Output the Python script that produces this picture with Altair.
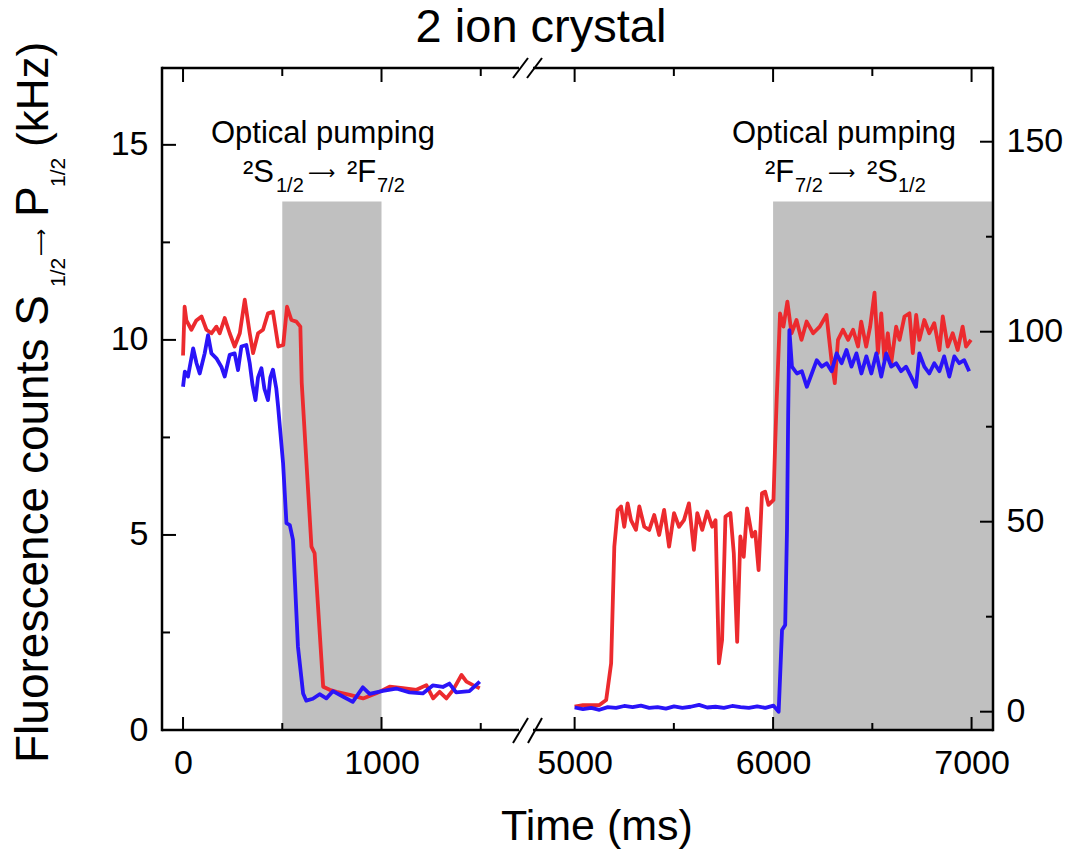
import altair as alt
import pandas as pd

# ---------------- data ----------------
RED_T1 = [0, 8, 17, 42, 67, 93, 118, 143, 168, 185, 210, 235, 260, 286, 311, 336, 353, 378, 403, 428,
          453, 480, 505, 524, 546, 571, 591, 598, 647, 663, 706, 739, 773, 840, 907, 974, 1041, 1108, 1176, 1226,
          1260, 1293, 1327, 1361, 1403, 1428, 1461, 1495]
RED_V1 = [9.6, 10.85, 10.5, 10.26, 10.5, 10.6, 10.26, 10.17, 10.34, 10.17, 10.56, 10.17, 9.83, 10.17, 11.03, 10.17, 9.66, 10.17, 10.26, 10.68,
          10.72, 9.83, 9.87, 10.85, 10.51, 10.47, 10.34, 8.9, 4.7, 4.53, 1.11, 1.03, 0.98, 0.9, 0.81, 0.94, 1.11, 1.07, 1.03, 1.15,
          0.81, 0.98, 0.81, 1.03, 1.41, 1.24, 1.15, 1.07]

RED_T2 = [5000, 5042, 5125, 5159, 5184, 5200, 5217, 5234, 5250, 5267, 5284, 5309, 5326, 5351, 5376, 5401, 5426, 5451, 5476, 5501,
          5526, 5551, 5576, 5601, 5618, 5643, 5668, 5693, 5710, 5727, 5743, 5760, 5785, 5802, 5819, 5835, 5852, 5869, 5894, 5910,
          5927, 5944, 5960, 5977, 6002, 6010, 6018, 6035, 6052, 6072, 6093, 6118, 6143, 6169, 6202, 6235, 6269, 6294, 6311, 6327,
          6352, 6378, 6403, 6428, 6444, 6469, 6489, 6511, 6528, 6545, 6561, 6578, 6595, 6620, 6637, 6662, 6687, 6704, 6721, 6737,
          6762, 6787, 6812, 6838, 6855, 6880, 6905, 6930, 6955, 6972, 6997]
RED_V2 = [0.6, 0.64, 0.64, 0.77, 1.71, 4.7, 5.64, 5.73, 5.21, 5.81, 5.38, 5.13, 5.73, 5.21, 5.13, 5.51, 5.0, 5.64, 4.7, 5.56,
          5.21, 5.38, 5.81, 4.62, 5.56, 5.13, 5.6, 5.21, 5.38, 1.71, 2.31, 5.47, 5.56, 4.53, 2.26, 4.96, 4.44, 5.68, 4.96, 5.08,
          4.1, 6.07, 6.11, 5.77, 5.9, 7.26, 8.46, 10.68, 10.34, 10.98, 10.17, 10.51, 10.0, 10.47, 10.17, 10.34, 10.64, 9.49, 8.89, 10.0,
          10.26, 10.0, 10.26, 9.83, 10.47, 9.83, 10.34, 11.21, 9.66, 10.68, 9.49, 10.17, 9.4, 10.34, 10.0, 10.6, 10.68, 9.66, 10.64, 10.0,
          10.51, 10.17, 10.43, 9.74, 10.6, 9.83, 10.17, 9.74, 10.34, 9.83, 10.0]

BLUE_T1 = [0, 9, 25, 51, 68, 84, 109, 126, 143, 168, 193, 210, 235, 260, 277, 294, 319, 336, 350, 365,
           378, 395, 410, 428, 440, 453, 470, 479, 504, 521, 538, 554, 579, 605, 621, 654, 688, 722, 755, 805,
           855, 906, 940, 1007, 1074, 1141, 1208, 1258, 1309, 1342, 1376, 1443, 1495]
BLUE_V1 = [85.5, 89.5, 88.2, 95.6, 91.7, 89.0, 94.3, 99.1, 94.3, 93.0, 90.8, 88.2, 93.9, 94.3, 89.9, 96.1, 96.5, 91.7, 86.0, 82.0,
           88.0, 90.4, 85.0, 82.0, 88.0, 90.0, 85.0, 80.3, 65.4, 49.6, 49.1, 45.2, 17.1, 4.8, 2.9, 3.4, 4.6, 3.5, 5.4, 4.0,
           2.6, 6.4, 4.7, 5.5, 6.1, 5.1, 4.8, 6.9, 6.5, 7.4, 5.1, 5.4, 7.9]

BLUE_T2 = [5000, 5042, 5084, 5125, 5167, 5209, 5250, 5292, 5334, 5376, 5418, 5460, 5501, 5543, 5585, 5627, 5668, 5710, 5752, 5794,
           5836, 5878, 5920, 5961, 6002, 6028, 6045, 6061, 6070, 6076, 6082, 6095, 6120, 6145, 6170, 6195, 6220, 6245, 6270, 6295,
           6320, 6345, 6370, 6395, 6420, 6445, 6470, 6495, 6520, 6545, 6570, 6595, 6620, 6645, 6670, 6695, 6720, 6737, 6762, 6787,
           6812, 6838, 6862, 6888, 6913, 6938, 6963, 6988]
BLUE_V2 = [1.1, 0.7, 1.0, 0.5, 1.2, 1.0, 1.5, 1.2, 1.6, 1.0, 1.2, 0.8, 1.4, 1.0, 1.3, 1.8, 1.1, 1.3, 1.0, 1.5,
           1.2, 1.0, 1.4, 1.0, 1.6, 0.0, 21.5, 22.8, 47.8, 78.0, 100.4, 90.8, 89.0, 89.6, 85.5, 89.0, 92.5, 90.8, 91.7, 89.6,
           94.3, 91.7, 95.2, 90.8, 94.3, 89.0, 93.5, 89.0, 94.3, 88.2, 94.3, 90.8, 91.7, 89.6, 90.8, 88.2, 85.5, 94.3, 90.8, 89.0,
           91.7, 89.6, 93.5, 88.2, 93.5, 91.7, 92.5, 89.6]

SHADE_START = [500, 6000]
SHADE_END = [1000, 7106]
SHADE_TOP = 13.55

X_MAJOR = [0, 1000, 5000, 6000, 7000]
X_MINOR = [500, 1500, 5500, 6500]
YL_MAJOR = [0, 5, 10, 15]
YL_MINOR = [2.5, 7.5, 12.5]
YR_MAJOR = [0, 50, 100, 150]
YR_MINOR = [25, 75, 125]

# ---------------- broken time axis ----------------
OFFSET = 3027          # ms removed between the two segments
def xp(t):
    return t if t < 3000 else t - OFFSET

W, H = 831, 662
FONT = "Liberation Sans"
ARROW_FONT = "DejaVu Sans"
RED = "#ec2a2e"
BLUE = "#2a14f8"

XS = alt.Scale(domain=[-106, xp(7108)], nice=False, zero=False)
YLS = alt.Scale(domain=[0, 16.97], nice=False, zero=False)
YRS = alt.Scale(domain=[-4.82, 169.4], nice=False, zero=False)

XAX = alt.Axis(values=[xp(v) for v in X_MAJOR],
               labelExpr="format(datum.value > 1800 ? datum.value + %d : datum.value, 'd')" % OFFSET,
               ticks=False, tickSize=0, domain=False, grid=False, title=None,
               labelFont=FONT, labelFontSize=34, labelColor="black", labelPadding=16,
               labelFlush=False, labelOverlap=False)
YLAX = alt.Axis(values=YL_MAJOR, orient="left", ticks=False, tickSize=0, domain=False, grid=False,
                title=None, labelFont=FONT, labelFontSize=34, labelColor="black", labelPadding=14)
YRAX = alt.Axis(values=YR_MAJOR, orient="right", ticks=False, tickSize=0, domain=False, grid=False,
                title=None, labelFont=FONT, labelFontSize=34, labelColor="black", labelPadding=13)

def series(ts_list, vs_list):
    rows = []
    for seg, (ts, vs) in enumerate(zip(ts_list, vs_list)):
        for t, v in zip(ts, vs):
            rows.append({"t": t, "xp": xp(t), "v": v, "seg": seg})
    return pd.DataFrame(rows)

red_df = series([RED_T1, RED_T2], [RED_V1, RED_V2])
blue_df = series([BLUE_T1, BLUE_T2], [BLUE_V1, BLUE_V2])
shade_df = pd.DataFrame({"x0": [xp(s) for s in SHADE_START], "x1": [xp(e) for e in SHADE_END],
                         "y0": [0, 0], "y1": [SHADE_TOP, SHADE_TOP]})
xmaj_df = pd.DataFrame({"xp": [xp(v) for v in X_MAJOR]})
xmin_df = pd.DataFrame({"xp": [xp(v) for v in X_MINOR]})
ylmaj_df = pd.DataFrame({"v": YL_MAJOR})
ylmin_df = pd.DataFrame({"v": YL_MINOR})
yrmaj_df = pd.DataFrame({"v": YR_MAJOR})
yrmin_df = pd.DataFrame({"v": YR_MINOR})
dummy = pd.DataFrame({"a": [0]})

# ---------------- left group (kHz) ----------------
shade = alt.Chart(shade_df).mark_rect(color="#c0c0c0").encode(
    x=alt.X("x0:Q", scale=XS, axis=XAX), x2="x1",
    y=alt.Y("y0:Q", scale=YLS, axis=YLAX), y2="y1")
red_line = alt.Chart(red_df).mark_line(color=RED, strokeWidth=3.8, strokeJoin="round").encode(
    x=alt.X("xp:Q", scale=XS, axis=XAX),
    y=alt.Y("v:Q", scale=YLS, axis=YLAX),
    detail="seg:N")
yl_major = alt.Chart(ylmaj_df).mark_rule(color="black", strokeWidth=2).encode(
    y=alt.Y("v:Q", scale=YLS, axis=YLAX), x=alt.value(0), x2=alt.value(14))
yl_minor = alt.Chart(ylmin_df).mark_rule(color="black", strokeWidth=2).encode(
    y=alt.Y("v:Q", scale=YLS, axis=YLAX), x=alt.value(0), x2=alt.value(8))
left_group = alt.layer(shade, red_line, yl_major, yl_minor)

# ---------------- right group ----------------
blue_line = alt.Chart(blue_df).mark_line(color=BLUE, strokeWidth=3.8, strokeJoin="round").encode(
    x=alt.X("xp:Q", scale=XS, axis=XAX),
    y=alt.Y("v:Q", scale=YRS, axis=YRAX),
    detail="seg:N")
yr_major = alt.Chart(yrmaj_df).mark_rule(color="black", strokeWidth=2).encode(
    y=alt.Y("v:Q", scale=YRS, axis=YRAX), x=alt.value(W), x2=alt.value(W - 13))
yr_minor = alt.Chart(yrmin_df).mark_rule(color="black", strokeWidth=2).encode(
    y=alt.Y("v:Q", scale=YRS, axis=YRAX), x=alt.value(W), x2=alt.value(W - 7))
right_group = alt.layer(blue_line, yr_major, yr_minor)

# ---------------- x ticks (inward, top and bottom) ----------------
def xticks(df, y1, y2):
    return alt.Chart(df).mark_rule(color="black", strokeWidth=2).encode(
        x=alt.X("xp:Q", scale=XS, axis=XAX), y=alt.value(y1), y2=alt.value(y2))

x_tick_layers = [xticks(xmaj_df, H, H - 13), xticks(xmin_df, H, H - 7),
                 xticks(xmaj_df, 0, 14), xticks(xmin_df, 0, 8)]

# ---------------- frame with break ----------------
def rule(x1, y1, x2, y2, w=2.5, cap="square"):
    return alt.Chart(dummy).mark_rule(color="black", strokeWidth=w, strokeCap=cap).encode(
        x=alt.value(x1), y=alt.value(y1), x2=alt.value(x2), y2=alt.value(y2))

GAP_L, GAP_R = 357, 371
frame = [rule(0, 0, 0, H), rule(W, 0, W, H),
         rule(0, 0, GAP_L, 0, cap="butt"), rule(GAP_R, 0, W, 0, cap="butt"),
         rule(0, H, GAP_L, H, cap="butt"), rule(GAP_R, H, W, H, cap="butt"),
         rule(351, 10, 366, -10, w=2, cap="butt"), rule(365, 10, 380, -10, w=2, cap="butt"),
         rule(351, H + 13, 366, H - 12, w=2, cap="butt"), rule(366, H + 13, 380, H - 12, w=2, cap="butt")]

# ---------------- texts ----------------
def txt(s, x, y, size, align="left", angle=0, font=FONT):
    return alt.Chart(dummy).mark_text(text=s, font=font, fontSize=size, align=align,
                                      baseline="alphabetic", angle=angle, color="black").encode(
        x=alt.value(x), y=alt.value(y))

ARROW = "\u27f6"
texts = [
    txt("2 ion crystal", 379, -26, 47, align="center"),
    txt("Time (ms)", 435, 772, 43, align="center"),
    # y-axis title (rotated)
    txt("Fluorescence counts S", -114, 695, 46, angle=270),
    txt("1/2", -97, 219, 21, angle=270),
    txt(ARROW, -115, 188, 19, angle=270, font=ARROW_FONT),
    txt("P", -114, 149, 46, angle=270),
    txt("1/2", -97, 119, 21, angle=270),
    txt("(kHz)", -114, 79, 44, angle=270),
    # left annotation
    txt("Optical pumping", 161, 75, 31, align="center"),
    txt("\u00b2S", 81, 114, 31),
    txt("1/2", 114, 124, 20),
    txt(ARROW, 146, 111, 19, font=ARROW_FONT),
    txt("\u00b2F", 185, 114, 31),
    txt("7/2", 215, 124, 20),
    # right annotation
    txt("Optical pumping", 682, 75, 31, align="center"),
    txt("\u00b2F", 603, 114, 31),
    txt("7/2", 633, 124, 20),
    txt(ARROW, 666, 111, 19, font=ARROW_FONT),
    txt("\u00b2S", 705, 114, 31),
    txt("1/2", 736, 124, 20),
]

chart = alt.layer(left_group, right_group, *x_tick_layers, *frame, *texts).resolve_scale(
    y="independent"
).properties(
    width=W, height=H,
    padding={"left": 162, "top": 68, "right": 1070 - 162 - W, "bottom": 852 - 68 - H},
    autosize=alt.AutoSizeParams(type="none"),
    background="white",
).configure_view(stroke=None)

chart.save("out.html", embed_options={"renderer": "svg", "actions": False})
